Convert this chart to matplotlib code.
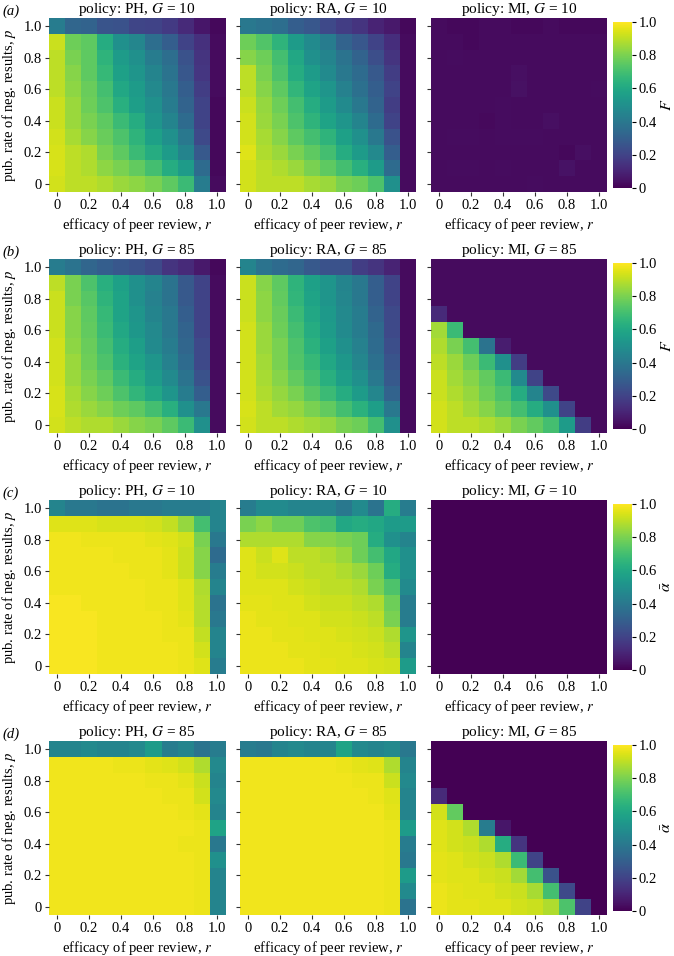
import numpy as np
import matplotlib
matplotlib.use("Agg")
import matplotlib.pyplot as plt

plt.rcParams['font.family'] = ['Liberation Serif', 'DejaVu Serif']
plt.rcParams['mathtext.fontset'] = 'stix'

r_ticks = [0, 0.2, 0.4, 0.6, 0.8, 1.0]
tick_labels = ["0", "0.2", "0.4", "0.6", "0.8", "1.0"]
policies = ["PH", "RA", "MI"]
G_values = [10, 85, 10, 85]
row_labels = ["(a)", "(b)", "(c)", "(d)"]
cbar_labels = ["$F$", "$F$", r"$\bar{\alpha}$", r"$\bar{\alpha}$"]

# rows ordered from p = 1.0 (top) to p = 0 (bottom); columns r = 0 ... 1.0
F_PH_10 = [
    [0.42, 0.33, 0.32, 0.26, 0.25, 0.21, 0.20, 0.17, 0.12, 0.06, 0.02],
    [0.92, 0.78, 0.75, 0.62, 0.50, 0.46, 0.36, 0.30, 0.20, 0.14, 0.03],
    [0.90, 0.80, 0.75, 0.65, 0.55, 0.50, 0.42, 0.36, 0.25, 0.15, 0.03],
    [0.90, 0.82, 0.75, 0.67, 0.57, 0.52, 0.45, 0.38, 0.27, 0.16, 0.03],
    [0.90, 0.83, 0.77, 0.70, 0.60, 0.55, 0.47, 0.40, 0.30, 0.18, 0.03],
    [0.92, 0.85, 0.78, 0.72, 0.63, 0.56, 0.50, 0.42, 0.32, 0.20, 0.02],
    [0.92, 0.85, 0.80, 0.75, 0.68, 0.62, 0.52, 0.45, 0.35, 0.20, 0.02],
    [0.93, 0.87, 0.82, 0.77, 0.72, 0.65, 0.57, 0.50, 0.40, 0.22, 0.02],
    [0.94, 0.90, 0.88, 0.80, 0.75, 0.68, 0.62, 0.55, 0.45, 0.28, 0.02],
    [0.94, 0.90, 0.88, 0.83, 0.80, 0.76, 0.70, 0.62, 0.55, 0.35, 0.02],
    [0.93, 0.90, 0.90, 0.88, 0.85, 0.83, 0.80, 0.75, 0.68, 0.42, 0.03],
]
F_RA_10 = [
    [0.40, 0.38, 0.36, 0.30, 0.27, 0.22, 0.18, 0.15, 0.10, 0.07, 0.02],
    [0.78, 0.73, 0.65, 0.55, 0.48, 0.42, 0.32, 0.27, 0.20, 0.13, 0.03],
    [0.82, 0.78, 0.70, 0.60, 0.50, 0.45, 0.38, 0.32, 0.24, 0.15, 0.03],
    [0.90, 0.80, 0.72, 0.62, 0.55, 0.48, 0.40, 0.35, 0.28, 0.18, 0.03],
    [0.90, 0.82, 0.75, 0.66, 0.58, 0.52, 0.44, 0.37, 0.30, 0.20, 0.03],
    [0.92, 0.84, 0.78, 0.70, 0.62, 0.55, 0.48, 0.40, 0.32, 0.18, 0.03],
    [0.93, 0.85, 0.80, 0.72, 0.65, 0.58, 0.52, 0.45, 0.35, 0.20, 0.03],
    [0.93, 0.87, 0.82, 0.75, 0.70, 0.65, 0.57, 0.50, 0.40, 0.25, 0.03],
    [0.95, 0.88, 0.85, 0.80, 0.75, 0.70, 0.62, 0.55, 0.47, 0.30, 0.03],
    [0.93, 0.90, 0.88, 0.85, 0.80, 0.75, 0.70, 0.63, 0.55, 0.35, 0.03],
    [0.93, 0.90, 0.90, 0.90, 0.87, 0.85, 0.80, 0.78, 0.72, 0.50, 0.03],
]
F_MI_10 = [
    [0.03, 0.02, 0.02, 0.03, 0.03, 0.02, 0.02, 0.03, 0.02, 0.02, 0.02],
    [0.03, 0.03, 0.02, 0.03, 0.03, 0.03, 0.03, 0.03, 0.03, 0.03, 0.03],
    [0.03, 0.035, 0.03, 0.03, 0.03, 0.03, 0.03, 0.03, 0.03, 0.03, 0.03],
    [0.03, 0.03, 0.03, 0.03, 0.03, 0.04, 0.03, 0.03, 0.03, 0.03, 0.03],
    [0.03, 0.03, 0.03, 0.03, 0.03, 0.045, 0.03, 0.03, 0.03, 0.03, 0.035],
    [0.03, 0.03, 0.03, 0.03, 0.035, 0.03, 0.03, 0.03, 0.03, 0.03, 0.03],
    [0.03, 0.03, 0.03, 0.025, 0.035, 0.03, 0.03, 0.04, 0.03, 0.03, 0.03],
    [0.03, 0.035, 0.035, 0.03, 0.035, 0.035, 0.035, 0.03, 0.03, 0.03, 0.03],
    [0.03, 0.03, 0.03, 0.03, 0.03, 0.03, 0.03, 0.03, 0.02, 0.04, 0.03],
    [0.03, 0.035, 0.035, 0.03, 0.035, 0.03, 0.03, 0.03, 0.05, 0.03, 0.03],
    [0.03, 0.03, 0.03, 0.03, 0.03, 0.03, 0.035, 0.03, 0.03, 0.03, 0.03],
]
F_PH_85 = [
    [0.42, 0.38, 0.33, 0.30, 0.27, 0.25, 0.22, 0.15, 0.12, 0.07, 0.02],
    [0.90, 0.80, 0.72, 0.63, 0.57, 0.50, 0.45, 0.38, 0.28, 0.20, 0.03],
    [0.92, 0.80, 0.74, 0.65, 0.58, 0.50, 0.44, 0.38, 0.28, 0.20, 0.03],
    [0.92, 0.82, 0.75, 0.67, 0.58, 0.52, 0.45, 0.40, 0.30, 0.20, 0.03],
    [0.92, 0.82, 0.76, 0.68, 0.60, 0.53, 0.47, 0.40, 0.32, 0.20, 0.03],
    [0.93, 0.83, 0.77, 0.70, 0.62, 0.56, 0.48, 0.42, 0.33, 0.22, 0.03],
    [0.93, 0.85, 0.78, 0.72, 0.64, 0.58, 0.52, 0.44, 0.35, 0.22, 0.03],
    [0.93, 0.85, 0.80, 0.75, 0.68, 0.62, 0.55, 0.48, 0.38, 0.25, 0.03],
    [0.94, 0.87, 0.82, 0.78, 0.72, 0.66, 0.60, 0.52, 0.42, 0.30, 0.03],
    [0.94, 0.88, 0.85, 0.82, 0.78, 0.75, 0.70, 0.63, 0.50, 0.40, 0.03],
    [0.93, 0.90, 0.88, 0.88, 0.85, 0.82, 0.80, 0.75, 0.68, 0.50, 0.03],
]
F_RA_85 = [
    [0.45, 0.38, 0.35, 0.33, 0.28, 0.25, 0.25, 0.18, 0.15, 0.10, 0.03],
    [0.92, 0.82, 0.75, 0.65, 0.57, 0.52, 0.45, 0.40, 0.30, 0.20, 0.03],
    [0.92, 0.83, 0.76, 0.66, 0.58, 0.52, 0.46, 0.40, 0.30, 0.20, 0.03],
    [0.92, 0.83, 0.77, 0.68, 0.60, 0.54, 0.47, 0.42, 0.32, 0.22, 0.03],
    [0.93, 0.85, 0.78, 0.70, 0.62, 0.55, 0.48, 0.42, 0.34, 0.22, 0.03],
    [0.93, 0.85, 0.80, 0.72, 0.64, 0.57, 0.50, 0.44, 0.35, 0.24, 0.03],
    [0.93, 0.86, 0.80, 0.73, 0.67, 0.60, 0.53, 0.46, 0.37, 0.26, 0.03],
    [0.93, 0.87, 0.82, 0.76, 0.70, 0.63, 0.56, 0.50, 0.40, 0.28, 0.03],
    [0.93, 0.88, 0.84, 0.80, 0.74, 0.68, 0.62, 0.55, 0.46, 0.32, 0.03],
    [0.94, 0.90, 0.86, 0.84, 0.80, 0.76, 0.70, 0.64, 0.56, 0.40, 0.03],
    [0.93, 0.90, 0.90, 0.88, 0.86, 0.84, 0.80, 0.78, 0.70, 0.50, 0.03],
]
F_MI_85 = [
    [0.03, 0.03, 0.03, 0.03, 0.03, 0.03, 0.03, 0.03, 0.03, 0.03, 0.03],
    [0.03, 0.03, 0.03, 0.03, 0.03, 0.03, 0.03, 0.03, 0.03, 0.03, 0.03],
    [0.03, 0.03, 0.03, 0.03, 0.03, 0.03, 0.03, 0.03, 0.03, 0.03, 0.03],
    [0.12, 0.03, 0.03, 0.03, 0.03, 0.03, 0.03, 0.03, 0.03, 0.03, 0.03],
    [0.86, 0.68, 0.03, 0.03, 0.03, 0.03, 0.03, 0.03, 0.03, 0.03, 0.03],
    [0.88, 0.80, 0.70, 0.38, 0.08, 0.03, 0.03, 0.03, 0.03, 0.03, 0.03],
    [0.90, 0.85, 0.78, 0.68, 0.50, 0.18, 0.03, 0.03, 0.03, 0.03, 0.03],
    [0.92, 0.86, 0.82, 0.76, 0.68, 0.48, 0.20, 0.03, 0.03, 0.03, 0.03],
    [0.92, 0.88, 0.84, 0.78, 0.72, 0.62, 0.45, 0.22, 0.03, 0.03, 0.03],
    [0.93, 0.90, 0.86, 0.82, 0.76, 0.70, 0.62, 0.50, 0.20, 0.03, 0.03],
    [0.93, 0.90, 0.90, 0.88, 0.85, 0.80, 0.76, 0.70, 0.55, 0.18, 0.03],
]
A_PH_10 = [
    [0.45, 0.40, 0.40, 0.38, 0.38, 0.40, 0.40, 0.42, 0.42, 0.42, 0.45],
    [0.95, 0.95, 0.95, 0.94, 0.94, 0.94, 0.93, 0.91, 0.84, 0.70, 0.45],
    [0.98, 0.98, 0.97, 0.97, 0.97, 0.97, 0.96, 0.95, 0.93, 0.80, 0.40],
    [0.98, 0.98, 0.98, 0.98, 0.97, 0.97, 0.97, 0.96, 0.92, 0.82, 0.35],
    [0.98, 0.98, 0.98, 0.98, 0.98, 0.97, 0.97, 0.96, 0.92, 0.82, 0.42],
    [0.98, 0.98, 0.98, 0.98, 0.98, 0.98, 0.97, 0.97, 0.95, 0.88, 0.45],
    [0.99, 0.99, 0.98, 0.98, 0.98, 0.98, 0.97, 0.97, 0.95, 0.89, 0.38],
    [0.99, 0.99, 0.99, 0.98, 0.98, 0.98, 0.98, 0.97, 0.96, 0.89, 0.40],
    [0.99, 0.99, 0.99, 0.98, 0.98, 0.98, 0.98, 0.97, 0.97, 0.91, 0.45],
    [0.99, 0.99, 0.99, 0.98, 0.98, 0.98, 0.98, 0.98, 0.97, 0.93, 0.45],
    [0.99, 0.99, 0.99, 0.98, 0.98, 0.98, 0.98, 0.98, 0.97, 0.95, 0.42],
]
A_RA_10 = [
    [0.42, 0.48, 0.48, 0.45, 0.45, 0.45, 0.40, 0.48, 0.38, 0.62, 0.42],
    [0.80, 0.83, 0.78, 0.78, 0.72, 0.70, 0.60, 0.62, 0.60, 0.55, 0.55],
    [0.88, 0.88, 0.88, 0.88, 0.82, 0.82, 0.80, 0.78, 0.62, 0.50, 0.45],
    [0.95, 0.92, 0.95, 0.90, 0.90, 0.88, 0.85, 0.78, 0.70, 0.60, 0.50],
    [0.95, 0.93, 0.93, 0.92, 0.90, 0.90, 0.88, 0.85, 0.78, 0.62, 0.50],
    [0.95, 0.95, 0.95, 0.93, 0.92, 0.90, 0.90, 0.88, 0.80, 0.72, 0.48],
    [0.96, 0.96, 0.95, 0.95, 0.93, 0.92, 0.92, 0.90, 0.88, 0.78, 0.42],
    [0.97, 0.96, 0.96, 0.95, 0.95, 0.93, 0.93, 0.92, 0.90, 0.80, 0.42],
    [0.97, 0.97, 0.96, 0.96, 0.95, 0.95, 0.94, 0.93, 0.92, 0.88, 0.52],
    [0.97, 0.97, 0.97, 0.96, 0.96, 0.95, 0.95, 0.94, 0.93, 0.90, 0.45],
    [0.97, 0.97, 0.97, 0.97, 0.96, 0.96, 0.95, 0.95, 0.94, 0.93, 0.55],
]
A_MI_10 = [[0.0] * 11 for _ in range(11)]
A_PH_85 = [
    [0.45, 0.45, 0.47, 0.45, 0.45, 0.47, 0.55, 0.42, 0.45, 0.38, 0.42],
    [0.98, 0.98, 0.98, 0.98, 0.97, 0.97, 0.96, 0.95, 0.93, 0.88, 0.47],
    [0.98, 0.98, 0.98, 0.98, 0.98, 0.98, 0.97, 0.97, 0.96, 0.92, 0.45],
    [0.98, 0.98, 0.98, 0.98, 0.98, 0.98, 0.98, 0.97, 0.97, 0.93, 0.47],
    [0.98, 0.98, 0.98, 0.98, 0.98, 0.98, 0.98, 0.98, 0.97, 0.96, 0.45],
    [0.98, 0.98, 0.98, 0.98, 0.98, 0.98, 0.98, 0.98, 0.98, 0.97, 0.58],
    [0.98, 0.98, 0.98, 0.98, 0.98, 0.98, 0.98, 0.98, 0.97, 0.97, 0.40],
    [0.98, 0.98, 0.98, 0.98, 0.98, 0.98, 0.98, 0.98, 0.98, 0.97, 0.50],
    [0.98, 0.98, 0.98, 0.98, 0.98, 0.98, 0.98, 0.98, 0.98, 0.97, 0.45],
    [0.98, 0.98, 0.98, 0.98, 0.98, 0.98, 0.98, 0.98, 0.98, 0.97, 0.45],
    [0.98, 0.98, 0.98, 0.98, 0.98, 0.98, 0.98, 0.98, 0.98, 0.97, 0.45],
]
A_RA_85 = [
    [0.42, 0.40, 0.45, 0.47, 0.45, 0.45, 0.58, 0.47, 0.45, 0.47, 0.40],
    [0.98, 0.98, 0.98, 0.98, 0.98, 0.98, 0.97, 0.96, 0.95, 0.88, 0.45],
    [0.98, 0.98, 0.98, 0.98, 0.98, 0.98, 0.98, 0.97, 0.97, 0.92, 0.47],
    [0.98, 0.98, 0.98, 0.98, 0.98, 0.98, 0.98, 0.98, 0.97, 0.95, 0.45],
    [0.98, 0.98, 0.98, 0.98, 0.98, 0.98, 0.98, 0.98, 0.98, 0.96, 0.45],
    [0.98, 0.98, 0.98, 0.98, 0.98, 0.98, 0.98, 0.98, 0.98, 0.97, 0.55],
    [0.98, 0.98, 0.98, 0.98, 0.98, 0.98, 0.98, 0.98, 0.98, 0.97, 0.42],
    [0.98, 0.98, 0.98, 0.98, 0.98, 0.98, 0.98, 0.98, 0.98, 0.97, 0.40],
    [0.98, 0.98, 0.98, 0.98, 0.98, 0.98, 0.98, 0.98, 0.98, 0.97, 0.55],
    [0.98, 0.98, 0.98, 0.98, 0.98, 0.98, 0.98, 0.98, 0.98, 0.97, 0.48],
    [0.98, 0.98, 0.98, 0.98, 0.98, 0.98, 0.98, 0.98, 0.98, 0.97, 0.38],
]
A_MI_85 = [
    [0.0, 0.0, 0.0, 0.0, 0.0, 0.0, 0.0, 0.0, 0.0, 0.0, 0.0],
    [0.0, 0.0, 0.0, 0.0, 0.0, 0.0, 0.0, 0.0, 0.0, 0.0, 0.0],
    [0.0, 0.0, 0.0, 0.0, 0.0, 0.0, 0.0, 0.0, 0.0, 0.0, 0.0],
    [0.12, 0.0, 0.0, 0.0, 0.0, 0.0, 0.0, 0.0, 0.0, 0.0, 0.0],
    [0.93, 0.76, 0.0, 0.0, 0.0, 0.0, 0.0, 0.0, 0.0, 0.0, 0.0],
    [0.95, 0.93, 0.88, 0.42, 0.06, 0.0, 0.0, 0.0, 0.0, 0.0, 0.0],
    [0.95, 0.93, 0.92, 0.88, 0.62, 0.15, 0.0, 0.0, 0.0, 0.0, 0.0],
    [0.96, 0.95, 0.93, 0.92, 0.88, 0.68, 0.20, 0.0, 0.0, 0.0, 0.0],
    [0.96, 0.95, 0.95, 0.93, 0.92, 0.86, 0.70, 0.25, 0.0, 0.0, 0.0],
    [0.97, 0.96, 0.95, 0.95, 0.93, 0.92, 0.87, 0.70, 0.22, 0.0, 0.0],
    [0.97, 0.96, 0.96, 0.95, 0.95, 0.93, 0.92, 0.88, 0.72, 0.20, 0.0],
]

grid = [
    [F_PH_10, F_RA_10, F_MI_10],
    [F_PH_85, F_RA_85, F_MI_85],
    [A_PH_10, A_RA_10, A_MI_10],
    [A_PH_85, A_RA_85, A_MI_85],
]

W, H = 674, 956
fig = plt.figure(figsize=(W / 100, H / 100), dpi=100)

col_left = [49, 240, 431]
ax_w, ax_h = 176, 174
row_top = [18, 259, 500, 741]
FS = 10.5

for i in range(4):
    for j in range(3):
        l = col_left[j] / W
        b = 1 - (row_top[i] + ax_h) / H
        ax = fig.add_axes([l, b, ax_w / W, ax_h / H])
        im = ax.imshow(np.array(grid[i][j]), cmap='viridis', vmin=0, vmax=1,
                       origin='upper', extent=(-0.05, 1.05, -0.05, 1.05),
                       aspect='auto', interpolation='nearest')
        for s in ax.spines.values():
            s.set_visible(False)
        ax.set_xticks(r_ticks)
        ax.set_xticklabels(tick_labels, fontsize=FS)
        ax.set_yticks(r_ticks)
        if j == 0:
            ax.set_yticklabels(tick_labels, fontsize=FS)
            ax.set_ylabel("pub. rate of neg. results, $p$", fontsize=FS, labelpad=4)
        else:
            ax.set_yticklabels([])
        ax.tick_params(length=3, width=0.8, color='#333333', pad=2)
        ax.set_xlabel("efficacy of peer review, $r$", fontsize=FS, labelpad=3)
        ax.set_title(f"policy: {policies[j]}, $G$ = {G_values[i]}", fontsize=FS + 0.5, pad=3)
    # colorbar
    cax = fig.add_axes([613 / W, 1 - (row_top[i] + 170) / H, 19 / W, 166 / H])
    cb = fig.colorbar(im, cax=cax, ticks=[0, 0.2, 0.4, 0.6, 0.8, 1.0])
    cb.ax.set_yticklabels(tick_labels, fontsize=FS)
    cb.outline.set_visible(False)
    cb.ax.tick_params(length=3, width=0.8, pad=2)
    cb.set_label(cbar_labels[i], fontsize=FS + 1, labelpad=1)
    fig.text(2 / W, 1 - (row_top[i] - 3) / H, row_labels[i], fontsize=FS,
             fontstyle='italic', va='baseline', ha='left')

fig.savefig("out.png", dpi=100)
